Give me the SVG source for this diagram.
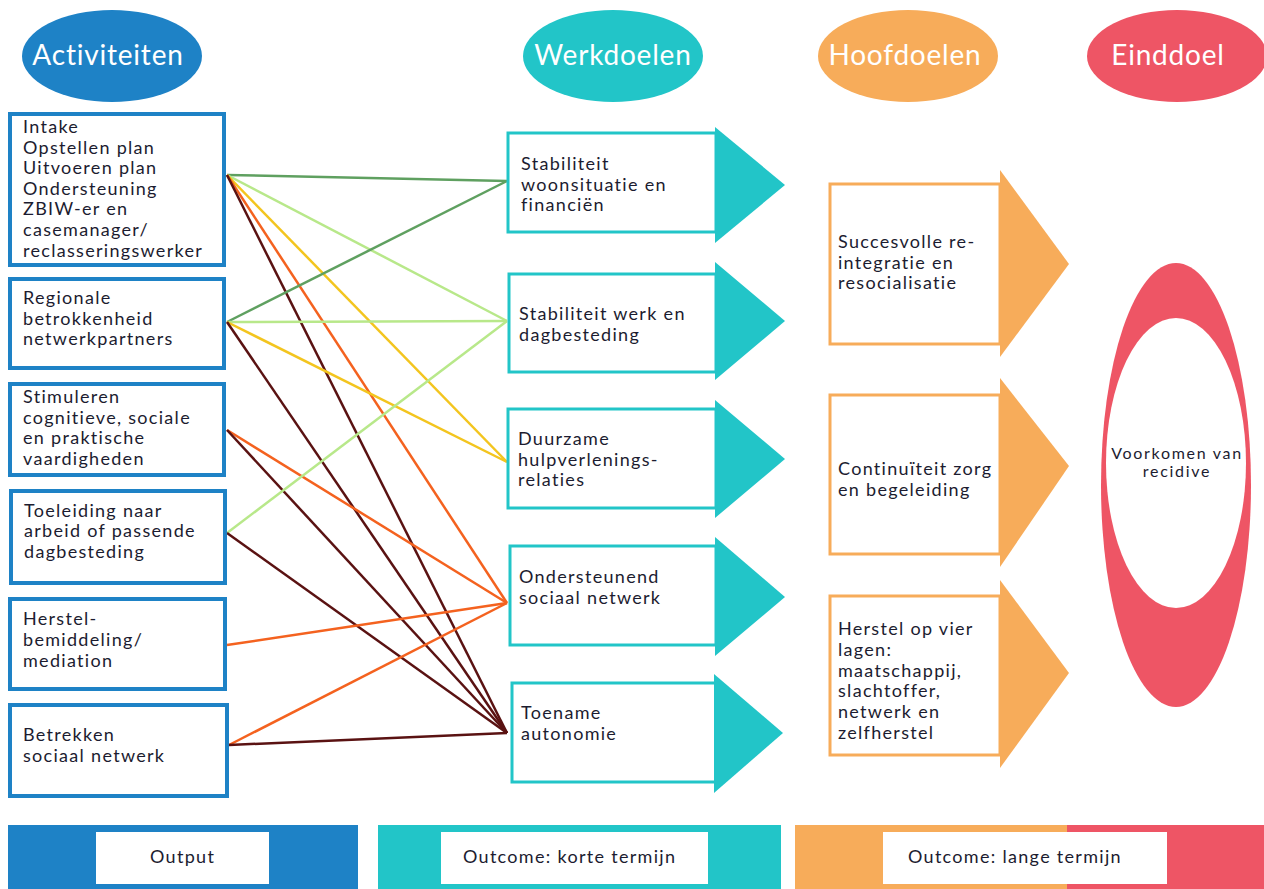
<svg xmlns="http://www.w3.org/2000/svg" width="1264" height="889" viewBox="0 0 1264 889">
<style>
  text { font-family: Lato, "Open Sans", "Liberation Sans", sans-serif; fill: #1c1c30; }
  .hdr { font-size: 28px; fill: #ffffff; text-anchor: middle; letter-spacing: 0.8px; }
  .lbl { font-size: 18px; letter-spacing: 1.3px; }
  .act { fill: #ffffff; stroke: #1e82c6; stroke-width: 4; }
  .wd { fill: #ffffff; stroke: #22c5c8; stroke-width: 3; }
  .wdt { fill: #22c5c8; }
  .hd { fill: #ffffff; stroke: #f7ac5a; stroke-width: 3; }
  .hdt { fill: #f7ac5a; }
  .c { fill: none; stroke-width: 2.5; }
  .dg { stroke: #5fa060; }
  .lg { stroke: #b8e88a; }
  .ye { stroke: #f3c51f; }
  .or { stroke: #f4621f; }
  .br { stroke: #5a1212; }
  .foot { font-size: 18px; letter-spacing: 1.3px; }
</style>

<g id="headers">
  <g id="h-activiteiten"><ellipse cx="112" cy="56" rx="90" ry="46" fill="#1e82c6"/><text class="hdr" x="108" y="65">Activiteiten</text></g>
  <g id="h-werkdoelen"><ellipse cx="613" cy="56" rx="90" ry="46" fill="#22c5c8"/><text class="hdr" x="613" y="65">Werkdoelen</text></g>
  <g id="h-hoofddoelen"><ellipse cx="908" cy="56" rx="90" ry="46" fill="#f7ac5a"/><text class="hdr" x="905" y="65">Hoofdoelen</text></g>
  <g id="h-einddoel"><ellipse cx="1177" cy="56" rx="90" ry="46" fill="#ee5565"/><text class="hdr" x="1168" y="65">Einddoel</text></g>
</g>

<g id="connectors">
  <line class="c dg" x1="227" y1="175" x2="507" y2="181"/>
  <line class="c lg" x1="227" y1="175" x2="507" y2="321"/>
  <line class="c ye" x1="227" y1="175" x2="507" y2="462"/>
  <line class="c or" x1="227" y1="175" x2="507" y2="603"/>
  <line class="c br" x1="227" y1="175" x2="507" y2="733"/>
  <line class="c dg" x1="227" y1="322" x2="507" y2="181"/>
  <line class="c lg" x1="227" y1="322" x2="507" y2="321"/>
  <line class="c ye" x1="227" y1="322" x2="507" y2="462"/>
  <line class="c br" x1="227" y1="322" x2="507" y2="733"/>
  <line class="c or" x1="227" y1="430" x2="507" y2="603"/>
  <line class="c br" x1="227" y1="430" x2="507" y2="733"/>
  <line class="c lg" x1="227" y1="533" x2="507" y2="321"/>
  <line class="c br" x1="227" y1="533" x2="507" y2="733"/>
  <line class="c or" x1="227" y1="645" x2="507" y2="603"/>
  <line class="c or" x1="229" y1="745" x2="507" y2="603"/>
  <line class="c br" x1="229" y1="745" x2="507" y2="733"/>
</g>

<g id="act1"><rect class="act" x="10" y="114" width="214" height="151"/>
  <text class="lbl"><tspan x="23" y="133">Intake</tspan><tspan x="23" y="154">Opstellen plan</tspan><tspan x="23" y="174">Uitvoeren plan</tspan><tspan x="23" y="195">Ondersteuning</tspan><tspan x="23" y="215">ZBIW-er en</tspan><tspan x="23" y="236">casemanager/</tspan><tspan x="23" y="257">reclasseringswerker</tspan></text></g>
<g id="act2"><rect class="act" x="10" y="279" width="214" height="89"/>
  <text class="lbl"><tspan x="23" y="304">Regionale</tspan><tspan x="23" y="325">betrokkenheid</tspan><tspan x="23" y="345">netwerkpartners</tspan></text></g>
<g id="act3"><rect class="act" x="10" y="384" width="214" height="91"/>
  <text class="lbl"><tspan x="23" y="403">Stimuleren</tspan><tspan x="23" y="424">cognitieve, sociale</tspan><tspan x="23" y="444">en praktische</tspan><tspan x="23" y="465">vaardigheden</tspan></text></g>
<g id="act4"><rect class="act" x="11" y="491" width="214" height="92"/>
  <text class="lbl"><tspan x="24" y="517">Toeleiding naar</tspan><tspan x="24" y="537">arbeid of passende</tspan><tspan x="24" y="558">dagbesteding</tspan></text></g>
<g id="act5"><rect class="act" x="10" y="599" width="215" height="90"/>
  <text class="lbl"><tspan x="23" y="625">Herstel-</tspan><tspan x="23" y="646">bemiddeling/</tspan><tspan x="23" y="667">mediation</tspan></text></g>
<g id="act6"><rect class="act" x="10" y="705" width="217" height="91"/>
  <text class="lbl"><tspan x="23" y="741">Betrekken</tspan><tspan x="23" y="762">sociaal netwerk</tspan></text></g>

<g id="wd1"><rect class="wd" x="508" y="133" width="208" height="99"/><polygon class="wdt" points="715,127 785,185 715,243"/>
  <text class="lbl"><tspan x="521" y="170">Stabiliteit</tspan><tspan x="521" y="191">woonsituatie en</tspan><tspan x="521" y="211">financiën</tspan></text></g>
<g id="wd2"><rect class="wd" x="509" y="274" width="207" height="98"/><polygon class="wdt" points="715,262 785,321 715,380"/>
  <text class="lbl"><tspan x="519" y="320">Stabiliteit werk en</tspan><tspan x="519" y="341">dagbesteding</tspan></text></g>
<g id="wd3"><rect class="wd" x="508" y="409" width="208" height="99"/><polygon class="wdt" points="715,400 785,459 715,518"/>
  <text class="lbl"><tspan x="518" y="445">Duurzame</tspan><tspan x="518" y="466">hulpverlenings-</tspan><tspan x="518" y="486">relaties</tspan></text></g>
<g id="wd4"><rect class="wd" x="510" y="546" width="206" height="99"/><polygon class="wdt" points="715,537 785,597 715,656"/>
  <text class="lbl"><tspan x="519" y="583">Ondersteunend</tspan><tspan x="519" y="604">sociaal netwerk</tspan></text></g>
<g id="wd5"><rect class="wd" x="512" y="683" width="204" height="99"/><polygon class="wdt" points="714,674 783,733 714,793"/>
  <text class="lbl"><tspan x="521" y="719">Toename</tspan><tspan x="521" y="740">autonomie</tspan></text></g>

<g id="hd1"><rect class="hd" x="830" y="184" width="170" height="160"/><polygon class="hdt" points="1000,170 1069,264 1000,357"/>
  <text class="lbl"><tspan x="838" y="248">Succesvolle re-</tspan><tspan x="838" y="269">integratie en</tspan><tspan x="838" y="289">resocialisatie</tspan></text></g>
<g id="hd2"><rect class="hd" x="830" y="395" width="170" height="159"/><polygon class="hdt" points="1000,378 1069,466 1000,567"/>
  <text class="lbl"><tspan x="838" y="475">Continuïteit zorg</tspan><tspan x="838" y="496">en begeleiding</tspan></text></g>
<g id="hd3"><rect class="hd" x="830" y="596" width="170" height="159"/><polygon class="hdt" points="1000,580 1069,673 1000,768"/>
  <text class="lbl"><tspan x="838" y="635">Herstel op vier</tspan><tspan x="838" y="656">lagen:</tspan><tspan x="838" y="677">maatschappij,</tspan><tspan x="838" y="697">slachtoffer,</tspan><tspan x="838" y="718">netwerk en</tspan><tspan x="838" y="739">zelfherstel</tspan></text></g>

<g id="einddoel"><ellipse cx="1176" cy="485" rx="75" ry="222" fill="#ee5565"/><ellipse cx="1176" cy="463" rx="70" ry="145" fill="#ffffff"/>
  <text style="font-size:16px;letter-spacing:1.7px;text-anchor:middle"><tspan x="1177" y="459">Voorkomen van</tspan><tspan x="1177" y="477">recidive</tspan></text></g>

<g id="footer">
  <g id="f-output"><rect x="8" y="825" width="350" height="64" fill="#1e82c6"/><rect x="96" y="832" width="173" height="52" fill="#ffffff"/><text class="foot" x="150" y="863">Output</text></g>
  <g id="f-kort"><rect x="378" y="825" width="403" height="64" fill="#22c5c8"/><rect x="441" y="832" width="267" height="52" fill="#ffffff"/><text class="foot" x="463" y="863">Outcome: korte termijn</text></g>
  <g id="f-lang"><rect x="795" y="825" width="272" height="64" fill="#f7ac5a"/><rect x="1067" y="825" width="197" height="64" fill="#ee5565"/><rect x="883" y="832" width="284" height="52" fill="#ffffff"/><text class="foot" x="908" y="863">Outcome: lange termijn</text></g>
</g>
</svg>
